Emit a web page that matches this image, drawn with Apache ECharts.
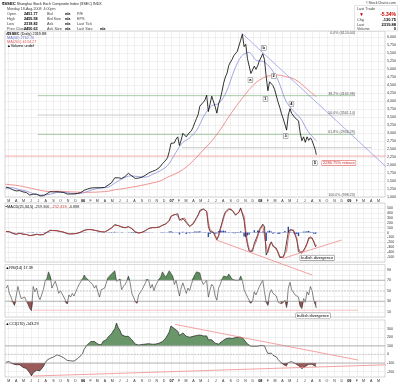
<!DOCTYPE html>
<html><head><meta charset="utf-8">
<script src="https://cdn.jsdelivr.net/npm/echarts@6/dist/echarts.min.js"></script>
<style>html,body{margin:0;padding:0;background:#fff}#c{width:400px;height:384px}</style>
</head><body><div id="c"></div>
<script>
const FONT = '"Liberation Sans", Arial, sans-serif';
const firstWeek = '2005-02-18';
const lastDay = '2008-08-18';
const xStart = '2005-02-14';
const xEnd = '2009-05-28';

// weekly closes
const close2005 = [1310,1320,1280,1250,1225,1185,1190,1220,1200,1180,1160,1160,1140,1110,1060,1015,1090,1080,1090,1060,1035,1020,1040,1083,1100,1145,1165,1150,1160,1170,1165,1150,1155,1155,1140,1125,1092,1100,1095,1100,1095,1090,1110,1130,1140,1161];
const close2006 = [1210,1230,1250,1258,1280,1290,1290,1300,1290,1270,1290,1290,1299,1330,1370,1390,1440,1440,1600,1560,1600,1640,1580,1620,1640,1672,1740,1720,1660,1620,1580,1560,1590,1600,1620,1640,1680,1720,1752,1752,1800,1810,1840,1860,1910,1960,2040,2090,2150,2230,2420,2675];
const close2007 = [2715,2690,2810,2880,2610,2780,2990,3040,2880,2960,2910,3070,3180,3320,3450,3580,3840,3840,3960,4030,4180,3670,3910,4150,4090,3820,3620,3910,4060,4300,4560,4750,4870,5110,5220,5300,5420,5450,5550,5550,5900,6092,5700,5770,5320,5310,4860,4870,5090,4990,5100,5260];
const close2008 = [5360,5480,5290,4760,4320,4600,4650,4480,4350,4300,3960,3800,3600,3450,3470,3090,3560,3760,3610,3630,3470,3430,3380,3000,2760,2880,2710,2880,2770,2850,2760,2610,2450,2319.88];

// monthly moving averages (mid-month, last = final day)
const ma50 = [1270,1290,1230,1180,1090,1060,1080,1140,1150,1110,1105, 1160,1240,1285,1310,1450,1580,1660,1640,1620,1710,1820,1980, 2350,2700,2840,3100,3550,3850,3930,4300,4950,5400,5520,5270, 5230,5000,4630,4000,3700,3450,3050, 2762.70];
const ma200 = [1400,1380,1350,1300,1250,1200,1170,1180,1170,1160,1150, 1145,1150,1160,1180,1230,1260,1300,1340,1390,1440,1500,1620, 1720,1850,2020,2250,2500,2750,3050,3400,3750,4050,4350,4580, 4730,4800,4810,4760,4700,4550,4350, 4134.27];

// MACD (weekly)
const macd = [20,25,15,-5,-20,-40,-35,-15,-15,-25,-35,-35,-40,-50,-65,-80,-50,-45,-35,-40,-50,-55,-40,-15,5,30,45,40,40,40,35,25,20,15,5,-5,-25,-25,-30,-25,-25,-25,-15,0,10,25,
 45,55,60,60,60,55,45,40,30,15,15,10,10,25,50,65,95,110,160,150,140,140,110,100,95,100,120,110,75,40,10,-15,-10,-5,5,20,40,65,85,90,100,100,100,105,110,120,150,160,175,190,250,330,
 370,360,370,380,250,240,290,300,200,170,120,140,180,240,300,360,450,460,480,440,430,120,20,40,0,-80,-150,-60,80,200,330,420,440,480,490,450,400,350,380,420,500,520,250,-50,-250,-380,-400,-380,-220,-180,-50,60,
 100,170,120,-460,-380,-250,-190,-280,-320,-320,-420,-510,-525,-500,-400,-380,15,60,85,40,-50,-150,-390,-400,-420,-360,-300,-220,-110,-70,-110,-200,-290,-259.31];
const macdSignal = [18,24,18,1,-16,-34,-37,-21,-15,-22,-32,-35,-39,-47,-61,-76,-59,-47,-38,-39,-47,-54,-45,-23,-1,23,41,42,40,40,37,28,22,17,8,-2,-19,-25,-29,-27,-25,-25,-18,-5,7,21,
 39,52,59,60,60,57,48,42,33,20,15,12,10,21,43,61,86,106,145,153,143,140,119,103,97,99,114,113,86,51,19,-8,-12,-7,2,16,34,58,79,89,97,100,100,104,109,117,141,157,171,186,232,306,
 358,363,367,377,289,243,275,297,230,179,135,134,168,222,282,342,423,457,474,452,433,213,50,34,12,-56,-129,-87,38,164,291,393,434,468,487,462,415,365,371,408,476,514,331,40,-190,-341,-394,-386,-268,-192,-89,27,
 88,149,135,-286,-404,-289,-208,-253,-308,-320,-390,-483,-521,-508,-430,-386,-104,47,78,54,-23,-120,-318,-397,-414,-378,-318,-244,-143,-82,-98,-173,-263,-252.42];
const macdHist = [2,1,-3,-6,-4,-6,2,6,0,-3,-3,0,-1,-3,-4,-4,9,2,3,-1,-3,-1,5,8,6,7,4,-2,0,0,-2,-3,-2,-2,-3,-3,-6,0,-1,2,0,0,3,5,3,4,
 6,3,1,0,0,-2,-3,-2,-3,-5,0,-2,0,4,7,4,9,4,15,-3,-3,0,-9,-3,-2,1,6,-3,-11,-11,-9,-7,2,2,3,4,6,7,6,1,3,0,0,1,1,3,9,3,4,4,18,24,
 12,-3,3,3,-39,-3,15,3,-30,-9,-15,6,12,18,18,18,27,3,6,-12,-3,-93,-30,6,-12,-24,-21,27,42,36,39,27,6,12,3,-12,-15,-15,9,12,24,6,-81,-90,-60,-39,-6,6,48,12,39,33,
 12,21,-15,-174,24,39,18,-27,-12,0,-30,-27,-4,8,30,6,119,13,7,-14,-27,-30,-72,-3,-6,18,18,24,33,12,-12,-27,-27,-6.89];

// RSI (weekly)
const rsi = [55,60,45,38,28,22,40,58,45,35,32,38,30,24,16,12,58,48,55,40,33,30,52,68,72,86,78,55,62,68,58,45,50,48,38,35,25,42,38,45,40,38,55,62,65,72,
 80,75,72,68,70,62,55,60,48,38,52,50,55,65,75,72,82,80,88,68,70,72,52,58,62,68,78,65,45,38,30,26,42,45,52,55,65,72,68,55,62,50,60,66,72,76,86,80,76,82,88,90,
 78,62,70,68,40,55,65,68,45,55,50,62,72,80,86,88,84,70,62,66,70,38,52,62,58,40,32,55,62,72,78,80,76,82,80,72,74,70,72,70,78,70,52,55,38,40,26,30,48,42,50,58,
 60,70,48,28,22,45,52,45,42,40,28,30,25,26,32,18,55,66,52,55,42,40,38,20,16,35,28,48,42,58,50,32,22,17.39];

// CCI (weekly)
const cci = [-90,-80,-85,-95,-110,-125,-120,-110,-120,-135,-150,-150,-165,-185,-215,-250,-215,-200,-185,-180,-190,-175,-140,-100,-70,-55,-45,-40,-30,-15,-5,-10,-20,-30,-40,-55,-70,-65,-75,-72,-78,-70,-50,-35,-15,10,
 60,90,115,125,150,160,150,140,120,100,110,150,170,170,200,215,240,260,300,365,310,280,230,220,210,200,210,190,170,150,120,105,110,115,115,120,120,125,125,120,118,115,120,125,130,135,150,170,190,210,260,330,
 345,300,280,270,220,230,250,250,210,210,200,205,210,215,220,215,225,220,215,210,215,170,165,170,150,130,115,120,130,150,170,180,185,190,190,185,190,195,200,200,210,195,170,150,120,110,95,90,95,92,95,100,
 105,115,100,50,10,20,15,-10,-20,-30,-60,-80,-100,-115,-125,-145,-95,-75,-85,-90,-105,-115,-130,-150,-165,-150,-140,-120,-115,-110,-115,-130,-140,-143.29];

// fibonacci / reference levels
const fibPct = ['0.0%','38.2%','50.0%','61.8%','100.0%'];
const fibVal = [6124.04,4165.98,3561.14,2956.29,998.23];
const fibFrom = '2005-06-29', fibTo = '2009-01-24';
const trendPrice = [['2007-10-16',6124],['2009-07-16',1630]];
const supportLine = [['2007-02-12',2541],['2009-04-04',2541]];
const retraceLine = [['2005-02-14',2280],['2009-06-05',2280]];
const macdLine1 = [['2007-07-04',-153],['2008-08-02',-867]];
const macdLine2 = [['2008-04-03',-527],['2008-12-01',-153]];
const rsiLine = [['2005-06-10',13],['2009-02-07',13]];
const cciLine1 = [['2007-01-15',349],['2009-02-07',-66]];
const cciLine2 = [['2005-06-10',-252],['2009-07-29',-116]];

const waveText = ['a','b','1','2','3','4','5'];
const waveAt = [['2007-11-21',4656],['2008-01-15',5656],['2008-01-22',4062],['2008-02-25',4781],['2008-04-14',2906],['2008-05-08',3906],['2008-08-12',2062]];

const DAY = 864e5;
function utc(s){const p=s.split('-');return Date.UTC(+p[0],+p[1]-1,+p[2]);}
const close = [].concat(close2005, close2006, close2007, close2008);
const weekT = close.map((_, i) => i < close.length - 1 ? utc(firstWeek) + i*7*DAY : utc(lastDay));
const pairs = arr => arr.map((v,i)=>[weekT[i], v]);
const maT = ma50.map((_, i) => i < ma50.length-1 ? Date.UTC(2005, 1+i, 15) : utc(lastDay));
const seg = a => a.map(p => [utc(p[0]), p[1]]);
const monthTicks = []; for (let m = 2; m <= 52; m++) monthTicks.push(Date.UTC(2005, m, 1));
const MON = 'JFMAMJJASOND';
function monthLabel(v){const d=new Date(v);const m=d.getUTCMonth();return m===0?'{y|'+String(d.getUTCFullYear()).slice(2)+'}':MON[m];}

const GRID = '#e3e3e3';
function xAx(gi, show){
  return {type:'value', gridIndex:gi, min:utc(xStart), max:utc(xEnd), scale:true,
    axisLine:{show:false}, axisTick:{show:false, customValues:monthTicks},
    axisLabel:{show:show, customValues:monthTicks, formatter:monthLabel, fontSize:3.6, color:'#333', margin:1.5, fontFamily:FONT, hideOverlap:false,
      rich:{y:{fontWeight:'bold', fontSize:3.8, fontFamily:FONT, color:'#000'}}},
    splitLine:{show:true, lineStyle:{color:GRID, width:0.5}}};
}
function yAx(gi, o){
  return Object.assign({type:'value', gridIndex:gi, position:'right', scale:false,
    axisLine:{show:false}, axisTick:{show:false},
    splitLine:{show:true, lineStyle:{color:GRID, width:0.5}}}, o);
}
const lab = (o) => Object.assign({fontSize:3.6, color:'#333', margin:2, fontFamily:FONT}, o);
const gridBox = {left:5, right:15, show:true, borderColor:'#a8a8a8', borderWidth:0.5, backgroundColor:'#fff'};

function line(xi, data, color, width, extra){
  return Object.assign({type:'line', xAxisIndex:xi, yAxisIndex:xi, data:data, symbol:'none', animation:false,
    lineStyle:{color:color, width:width}, silent:true}, extra||{});
}

const series = [
  line(0, seg([[fibFrom,fibVal[1]],[fibTo,fibVal[1]]]), '#8fbf8f', 0.8),
  line(0, seg([[fibFrom,fibVal[2]],[fibTo,fibVal[2]]]), '#bdbdbd', 0.8),
  line(0, seg([[fibFrom,fibVal[3]],[fibTo,fibVal[3]]]), '#8fbf8f', 0.8),
  line(0, seg(supportLine), '#c4c4c4', 0.9),
  line(0, seg(retraceLine), '#f4a4a4', 0.9, {clip:false}),
  line(0, maT.map((t,i)=>[t, ma200[i]]), '#ee7777', 0.8, {smooth:0.3}),
  line(0, maT.map((t,i)=>[t, ma50[i]]), '#8890dd', 0.8, {smooth:0.3}),
  line(0, pairs(close), '#000', 0.8),
  line(0, seg(trendPrice), '#8a8ee8', 0.7, {clip:false}),

  {type:'bar', xAxisIndex:1, yAxisIndex:1, data:pairs(macdHist), barWidth:1.4, itemStyle:{color:'#2a48a8'}, animation:false, silent:true},
  line(1, pairs(macd), '#222', 0.8),
  line(1, pairs(macdSignal), '#cc3333', 0.7),
  line(1, seg(macdLine1), '#f08a8a', 0.8, {clip:false}),
  line(1, seg(macdLine2), '#f08a8a', 0.8, {clip:false}),

  line(2, seg(rsiLine), '#f7b8b8', 0.9),
  line(2, pairs(rsi.map(v=>Math.max(v,70))), '#000', 0, {areaStyle:{origin:70, color:'#5d8f5d', opacity:1}, lineStyle:{width:0}}),
  line(2, pairs(rsi.map(v=>Math.min(v,30))), '#000', 0, {areaStyle:{origin:30, color:'#985454', opacity:1}, lineStyle:{width:0}}),
  line(2, pairs(rsi), '#333', 0.6),

  line(3, pairs(cci.map(v=>Math.max(v,100))), '#000', 0, {areaStyle:{origin:100, color:'#6a976a', opacity:1}, lineStyle:{width:0}}),
  line(3, pairs(cci.map(v=>Math.min(v,-100))), '#000', 0, {areaStyle:{origin:-100, color:'#9a5a5a', opacity:1}, lineStyle:{width:0}}),
  line(3, pairs(cci), '#222', 0.7),
  line(3, seg(cciLine1), '#f08a8a', 0.8, {clip:false}),
  line(3, seg(cciLine2), '#f08a8a', 0.8, {clip:false})
];

const option = {
  animation:false,
  backgroundColor:'#fff',
  grid:[
    Object.assign({top:31, height:166}, gridBox),
    Object.assign({top:203, height:59}, gridBox),
    Object.assign({top:264.5, height:52.5}, gridBox),
    Object.assign({top:320, height:57}, gridBox)
  ],
  xAxis:[xAx(0,true), xAx(1,false), xAx(2,false), xAx(3,true)],
  yAxis:[
    yAx(0,{min:1000, max:6187, interval:250, axisLabel:lab({showMaxLabel:false})}),
    yAx(1,{min:-600, max:600, interval:100, axisLabel:lab({showMinLabel:false, showMaxLabel:false})}),
    yAx(2,{min:0, max:100, interval:10, axisLabel:lab({formatter:v=> (v%20===10? String(v):'')})}),
    yAx(3,{min:-263, max:400, axisLabel:lab({customValues:[-200,-100,0,100,200,300]}), axisTick:{show:false, customValues:[-200,-100,0,100,200,300]}})
  ],
  series: series.concat([
    line(2, seg([[xStart,70],[xEnd,70]]), '#9a9a9a', 0.7),
    line(2, seg([[xStart,30],[xEnd,30]]), '#9a9a9a', 0.7),
    line(2, seg([[xStart,50],[xEnd,50]]), '#b8b8b8', 0.6, {lineStyle:{color:'#b8b8b8', width:0.6, type:[2,1]}}),
    line(3, seg([[xStart,100],[xEnd,100]]), '#9a9a9a', 0.7),
    line(3, seg([[xStart,-100],[xEnd,-100]]), '#9a9a9a', 0.7),
    line(3, seg([[xStart,0],[xEnd,0]]), '#b8b8b8', 0.6, {lineStyle:{color:'#b8b8b8', width:0.6, type:[2,1]}})
  ])
};

const chart = echarts.init(document.getElementById('c'), null, {renderer:'canvas', width:400, height:384});
chart.setOption(option);

function tx(x, y, text, o){
  return {type:'text', x:x, y:y, silent:true, z:100, style:Object.assign({text:text, fill:'#222', font:'3.8px '+FONT, align:'left', verticalAlign:'middle'}, o||{})};
}
const g = [];
g.push(tx(2, 4, '{b|$SSEC} Shanghai Stock Exch Composite Index (SSEC) INDX', {font:'3.6px '+FONT, rich:{b:{font:'bold 4.2px '+FONT, fill:'#000'}}}));
g.push(tx(7, 9, 'Monday 18-Aug-2008  4:00pm', {fill:'#444', font:'3.6px '+FONT}));
const hdr = [['Open','2451.77','Bid','n/a','P/E',''],['High','2455.58','Bid Size','n/a','EPS',''],['Low','2318.82','Ask','n/a','Last Tick',''],['Prev Close','2450.63','Ask Size','n/a','Last Size','n/a']];
hdr.forEach((r,i)=>{
  const y = 14 + i*5;
  g.push(tx(7, y, r[0], {fill:'#444'}));
  g.push(tx(24, y, r[1], {font:'bold 3.8px '+FONT, fill:'#000'}));
  g.push(tx(47, y, r[2], {fill:'#444'}));
  g.push(tx(65, y, r[3], {font:'bold 3.8px '+FONT, fill:'#000'}));
  g.push(tx(77, y, r[4], {fill:'#444'}));
  if (r[5]) g.push(tx(100, y, r[5], {font:'bold 3.8px '+FONT, fill:'#000'}));
});
g.push(tx(396, 3, '©StockCharts.com', {align:'right', fill:'#444', font:'3.6px '+FONT}));
g.push({type:'rect', shape:{x:354.5, y:5.5, width:43, height:25.5}, style:{fill:'#fff', stroke:'#c8c8c8', lineWidth:0.5}, silent:true, z:90});
g.push(tx(357, 9, 'Last Trade', {fill:'#444', font:'3.8px '+FONT}));
g.push(tx(359, 14.5, '▼', {fill:'#cc0000', font:'bold 5px '+FONT}));
g.push(tx(396, 14.5, '-5.34%', {align:'right', fill:'#cc0000', font:'bold 5px '+FONT}));
g.push(tx(357, 19.5, 'Chg', {fill:'#444', font:'3.8px '+FONT}));
g.push(tx(396, 19.5, '-130.75', {align:'right', fill:'#000', font:'bold 4px '+FONT}));
g.push(tx(357, 24.5, 'Last', {fill:'#444', font:'3.8px '+FONT}));
g.push(tx(396, 24.5, '2319.88', {align:'right', fill:'#000', font:'bold 4px '+FONT}));
g.push(tx(357, 29, 'Volume', {fill:'#444', font:'3.8px '+FONT}));
g.push(tx(396, 29, '0', {align:'right', fill:'#000', font:'bold 4px '+FONT}));
g.push(tx(7, 34, '{k|$SSEC} (Daily) 2319.88', {fill:'#000', rich:{k:{font:'bold 3.8px '+FONT, fill:'#000'}}}));
g.push({type:'line', shape:{x1:6, y1:34, x2:6.8, y2:34}, style:{stroke:'#000', lineWidth:1}, z:100, silent:true});
g.push(tx(7, 38, 'MA(50) 2762.70', {fill:'#6d75cc'}));
g.push(tx(7, 42, 'MA(200) 4134.27', {fill:'#e05c5c'}));
g.push(tx(7, 46, '▲Volume undef', {fill:'#000'}));
g.push(tx(7, 206.5, '{k|MACD(25,34,5)} -259.306, {r|-252.418}, -6.888', {fill:'#333', rich:{k:{fill:'#000', font:'3.8px '+FONT}, r:{fill:'#d04040', font:'3.8px '+FONT}}}));
g.push({type:'line', shape:{x1:5.5, y1:206.5, x2:6.8, y2:206.5}, style:{stroke:'#000', lineWidth:0.8}, z:100, silent:true});
g.push(tx(5.5, 268, '▲RSI(14) 17.39', {fill:'#000'}));
g.push(tx(5.5, 324, '▲CCI(170) -143.29', {fill:'#000'}));

function px(gi, d, v){ return chart.convertToPixel({gridIndex:gi}, [typeof d === 'string' ? utc(d) : d, v]); }
fibPct.forEach((p,i)=>{
  const q = px(0, fibTo, fibVal[i]);
  g.push(tx(q[0], Math.max(q[1]-2, 33), p + ' (' + fibVal[i].toFixed(2) + ')', {align:'right', fill:'#555', font:'3.6px '+FONT}));
});
const box = {backgroundColor:'#fff', borderColor:'#777', borderWidth:0.5, padding:[0.5,1,0.2,1], align:'center'};
waveText.forEach((t,i)=>{
  const q = px(0, waveAt[i][0], waveAt[i][1]);
  g.push(tx(q[0], q[1], t, Object.assign({}, box, {fill:'#000', font:'bold 4px '+FONT})));
});
let q = px(0, '2008-11-19', 2062);
g.push(tx(q[0], q[1], '2280 75% retrace', Object.assign({}, box, {fill:'#d02020', borderColor:'#e06060', font:'4px '+FONT})));
q = px(1, '2008-08-22', -514);
g.push(tx(q[0], q[1], 'bullish divergence', Object.assign({}, box, {fill:'#000', font:'4px '+FONT})));
q = px(2, '2008-08-05', 2.8);
g.push(tx(q[0], q[1], 'bullish divergence', Object.assign({}, box, {fill:'#000', font:'4px '+FONT})));

chart.setOption({graphic:g});
</script></body></html>
